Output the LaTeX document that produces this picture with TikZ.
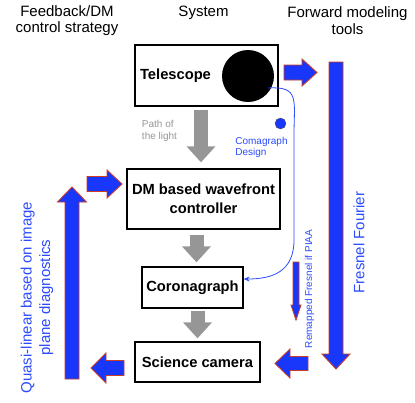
\documentclass[tikz,border=0pt]{standalone}
\usepackage{fontspec}
\setmainfont{Liberation Sans}
\usepackage{tikz}
\usetikzlibrary{arrows.meta, positioning, calc}
\definecolor{arrowblue}{RGB}{25,55,250}
\definecolor{arrowedge}{RGB}{200,60,40}
\definecolor{textblue}{RGB}{45,75,255}
\definecolor{lightpath}{RGB}{150,150,150}

\tikzset{
  sysbox/.style={draw=black, line width=1.3pt, inner sep=0pt, align=center,
    font=\fontsize{14.7}{19}\selectfont\bfseries},
  headtxt/.style={align=center, font=\fontsize{15}{16.6}\selectfont},
  bluetxt/.style={text=textblue, align=center},
  lightflow/.style={draw=lightpath, line width=14pt,
    -{Triangle[width=28pt,length=16pt]}},
  pics/blockarrow/.style n args={3}{code={
    \draw[draw=arrowedge, fill=arrowblue, line width=0.9pt, line join=miter]
      (0,-#2) -- ({#1-15},-#2) -- ({#1-15},-#3) -- (#1,0)
      -- ({#1-15},#3) -- ({#1-15},#2) -- (0,#2) -- cycle;
  }},
}

\begin{document}
\begin{tikzpicture}[x=1pt, y=-1pt, >=Stealth]
    \useasboundingbox (0,0) rectangle (415,402);

    % Column heads
    \node[headtxt] (hfeed) at (67,20.5) {Feedback/DM\\control strategy};
    \node[headtxt, anchor=base] (hsys) at (203.5,16) {System};
    \node[headtxt] (hfwd) at (347.5,20.5) {Forward modeling\\tools};

    % System boxes
    \node[sysbox, minimum width=143pt, minimum height=61pt] (tel) at (206.5,75.5) {};
    \node[font=\fontsize{14.7}{19}\selectfont\bfseries] (teltxt) at (175.5,76) {Telescope};
    \node[circle, fill=black, inner sep=0pt, minimum size=52pt] (mirror) at (248,76) {};
    \node[sysbox, minimum width=153pt, minimum height=60pt] (dm) at (203.5,199) {DM based wavefront\\controller};
    \node[sysbox, minimum width=101pt, minimum height=41pt] (cor) at (192.5,287.5) {Coronagraph};
    \node[sysbox, minimum width=125pt, minimum height=40pt] (sci) at (197.5,362) {Science camera};

    % Path of the light
    \draw[lightflow, shorten <=3pt, shorten >=6pt] ([xshift=-5.5pt]tel.south) -- ([xshift=-2.5pt]dm.north);
    \draw[lightflow, shorten <=5pt, shorten >=4pt] ([xshift=-7pt]dm.south) -- ([xshift=4pt]cor.north);
    \draw[lightflow, shorten <=2pt, shorten >=3pt] ([xshift=5pt]cor.south) -- (sci.north);
    \node[text=lightpath, align=left, font=\fontsize{10}{12}\selectfont] (path) at (159.5,131) {Path of\\the light};

    % Coronagraph design
    \node[circle, fill=arrowblue, draw=black!70, line width=0.4pt, inner sep=0pt, minimum size=11pt] (dot) at (280.5,123.5) {};
    \node[bluetxt, align=left, font=\fontsize{10}{11.5}\selectfont] (cdesign) at (261.5,147.5) {Comagraph\\Design};
    \coordinate (cstart) at ([shift={(20,12)}]mirror.center);
    \draw[textblue, line width=0.8pt, -{Stealth[length=6pt,width=5pt]}] (cstart)
      .. controls (300,86) and (294,100) .. (294,135) -- (294,240)
      .. controls (294,272) and (272,279) .. ([yshift=8.5pt]cor.east);

    % Forward modeling arrows
    \pic at (284,72.5) {blockarrow={33}{7.5}{13.5}};
    \pic[rotate=-90] at (336,62) {blockarrow={307}{7}{14}};
    \pic[rotate=-90] at (296,262) {blockarrow={58}{3}{5}};
    \pic[rotate=180] at (308,363.5) {blockarrow={33}{7}{14.5}};
    \node[bluetxt, rotate=90, font=\fontsize{15}{17}\selectfont] (fresnel) at (359,242.5) {Fresnel Fourier};
    \node[bluetxt, rotate=90, font=\fontsize{10}{12}\selectfont] (remap) at (309.5,289) {Remapped Fresnel if PIAA};

    % Feedback loop
    \pic[rotate=180] at (124,368) {blockarrow={33}{7.5}{15}};
    \pic[rotate=90] at (72,379) {blockarrow={192}{7}{14.5}};
    \pic at (87,184) {blockarrow={35}{7.5}{14}};
    \node[bluetxt, rotate=90, font=\fontsize{15}{18.5}\selectfont] (quasi) at (37,297.5) {Quasi-linear based on image\\plane diagnostics};
\end{tikzpicture}
\end{document}
